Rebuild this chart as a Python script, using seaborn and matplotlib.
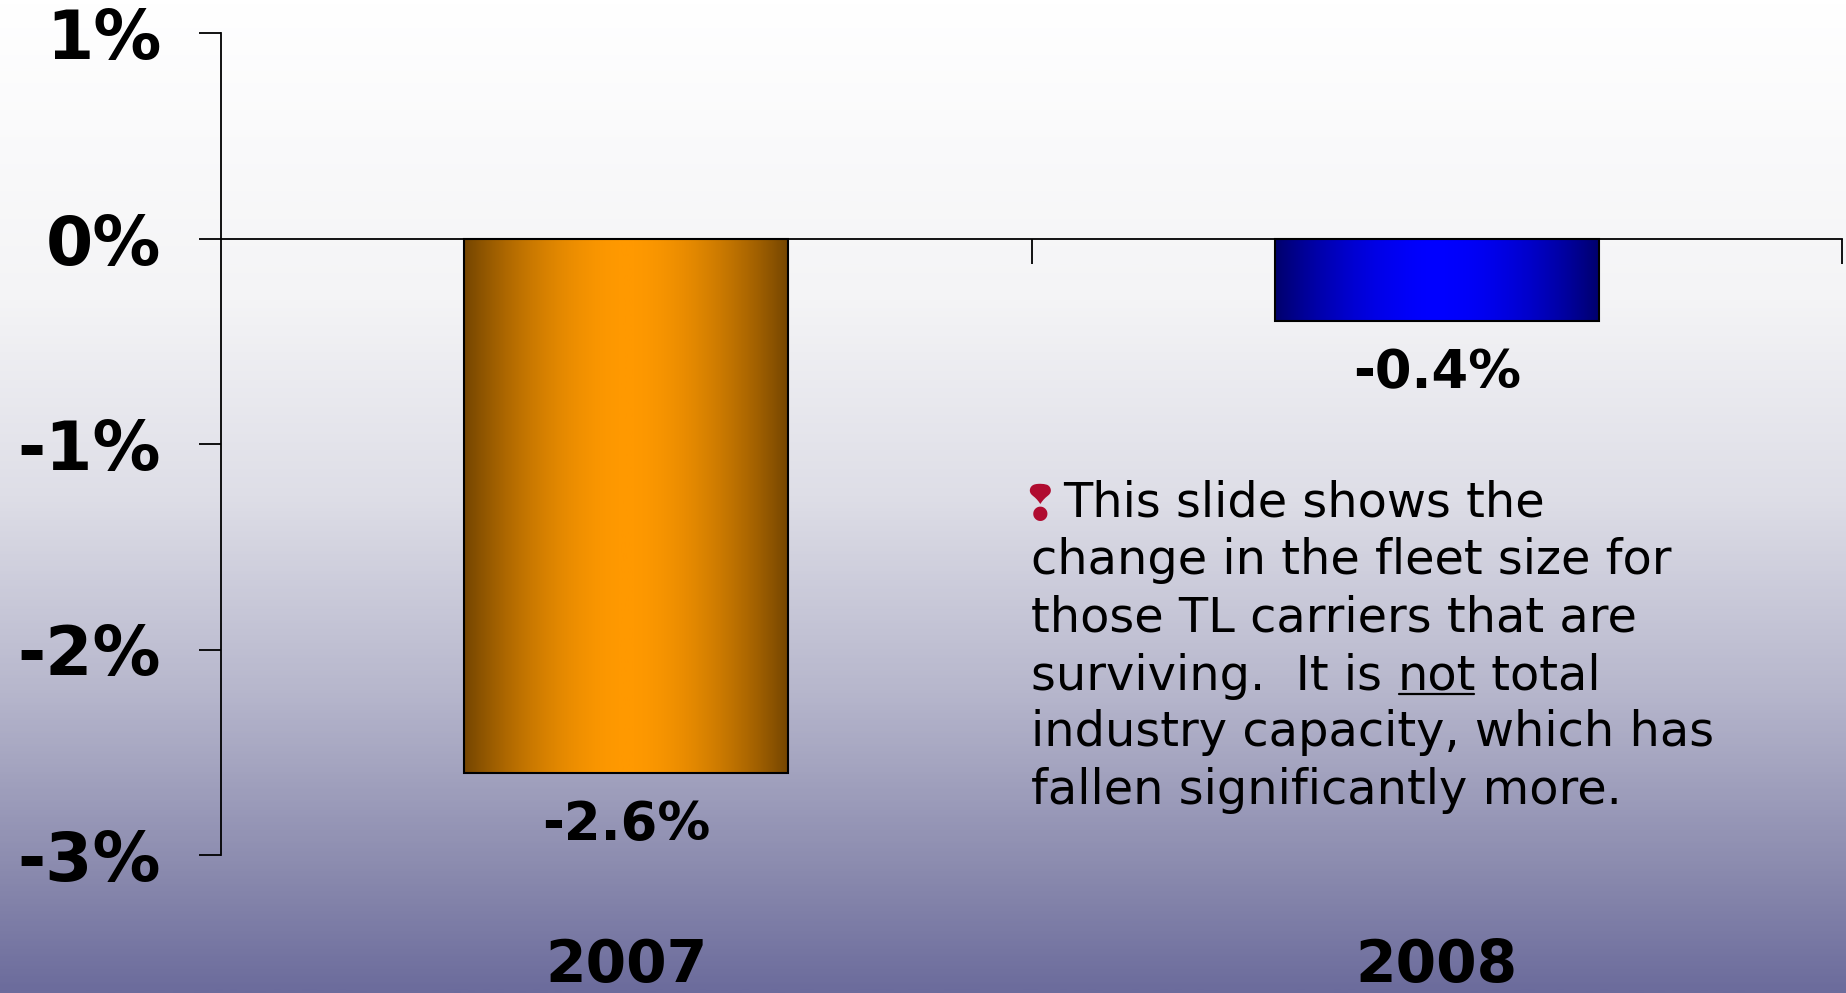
import numpy as np
import pandas as pd
import seaborn as sns
import matplotlib.pyplot as plt
from matplotlib.colors import LinearSegmentedColormap
from matplotlib.lines import Line2D

# data
years = ["2007", "2008"]
change = [-2.6, -0.4]
bar_mid = ["#ff9900", "#0000ff"]
bar_dark = ["#744500", "#00006c"]
yticks = [1, 0, -1, -2, -3]
ytick_labels = ["1%", "0%", "-1%", "-2%", "-3%"]
note_lines = [
    "This slide shows the",
    "change in the fleet size for",
    "those TL carriers that are",
    ("surviving.  It is ", "not", " total"),
    "industry capacity, which has",
    "fallen significantly more.",
]

sns.set_theme(style="white")
plt.rcParams['font.family'] = ['DejaVu Sans']
plt.rcParams['text.color'] = 'black'

W, H = 1846, 993
fig = plt.figure(figsize=(W / 100, H / 100), dpi=100)

# slide background gradient
bg = fig.add_axes([0, 0, 1, 1], zorder=0)
bg_cmap = LinearSegmentedColormap.from_list(
    "bg", [(0, "#ffffff"), (0.3, "#f4f4f6"), (0.5, "#dedee7"),
           (0.7, "#b6b6cc"), (0.88, "#8a8aae"), (1, "#6c6c9c")])
bg.imshow(np.linspace(0, 1, 400).reshape(-1, 1), aspect="auto", cmap=bg_cmap,
          extent=[0, 1, 0, 1])
bg.axis("off")

ax = fig.add_axes([221 / W, 1 - 855 / H, (1842 - 221) / W, (855 - 33) / H], zorder=1)
ax.patch.set_alpha(0)

df = pd.DataFrame({"year": years, "change": change})
sns.barplot(data=df, x="year", y="change", hue="year", palette=bar_mid,
            legend=False, width=0.4, edgecolor="black", linewidth=1.5, ax=ax)

# horizontal shading on the bars
grad = (np.abs(np.linspace(-1, 1, 300)) ** 1.8).reshape(1, -1)
for i, p in enumerate(ax.patches):
    cm = LinearSegmentedColormap.from_list("b%d" % i, [bar_mid[i], bar_dark[i]])
    x0, w = p.get_x(), p.get_width()
    y0, h = p.get_y(), p.get_height()
    im = ax.imshow(grad, extent=[x0, x0 + w, y0 + h, y0], aspect="auto",
                   cmap=cm, zorder=2)
    im.set_clip_path(p)
    p.set_facecolor("none")
    p.set_zorder(3)
ax.set_xlim(-0.5, 1.5)
ax.set_ylim(-3, 1)

for c in ax.containers:
    ax.bar_label(c, labels=["%g%%" % v for v in c.datavalues], padding=19,
                 fontsize=38, fontweight="bold", color="black")

for i, y in enumerate(years):
    ax.text(i, -3.4, y, ha="center", va="top", fontsize=42,
            fontweight="bold", color="black", clip_on=False)

# axes styling
for s in ["top", "right"]:
    ax.spines[s].set_visible(False)
ax.spines["bottom"].set_position(("data", 0))
for s in ["left", "bottom"]:
    ax.spines[s].set_color("black")
    ax.spines[s].set_linewidth(1.3)
ax.set_yticks(yticks, ytick_labels)
ax.set_xticks([0.5, 1.5], ["", ""])
ax.tick_params(axis="y", left=True, direction="out", length=16, width=1.3,
               pad=27, labelsize=49, colors="black")
ax.tick_params(axis="x", bottom=True, direction="out", length=18, width=1.3,
               colors="black")
for t in ax.get_yticklabels():
    t.set_fontweight("bold")
ax.set_xlabel("")
ax.set_ylabel("")

# note text
line_y = [503, 561, 618, 676, 733, 791]
fig.text(1040 / W, 1 - (line_y[0] + 3) / H, "\u2762", color="#b00c30",
         fontsize=35, fontweight="bold", va="center", ha="center")
fs = 34.5
not_txt = None
for k, line in enumerate(note_lines):
    yy = 1 - line_y[k] / H
    x = (1063 if k == 0 else 1031) / W
    if isinstance(line, tuple):
        t0 = fig.text(x, yy, line[0], fontsize=fs, va="center", ha="left")
        not_txt = ax.annotate(line[1], xy=(1, 0), xycoords=t0, va="bottom",
                              fontsize=fs, annotation_clip=False)
        ax.annotate(line[2], xy=(1, 0), xycoords=not_txt, va="bottom",
                    fontsize=fs, annotation_clip=False)
    else:
        fig.text(x, yy, line, fontsize=fs, va="center", ha="left")

fig.canvas.draw()
bb = not_txt.get_window_extent()
uy = bb.y0 + 6
inv = fig.transFigure.inverted()
(ux0, uyf), (ux1, _) = inv.transform([(bb.x0 + 2, uy), (bb.x1 - 2, uy)])
fig.add_artist(Line2D([ux0, ux1], [uyf, uyf], color="black", linewidth=1.6))

fig.savefig("out.png", dpi=100)
